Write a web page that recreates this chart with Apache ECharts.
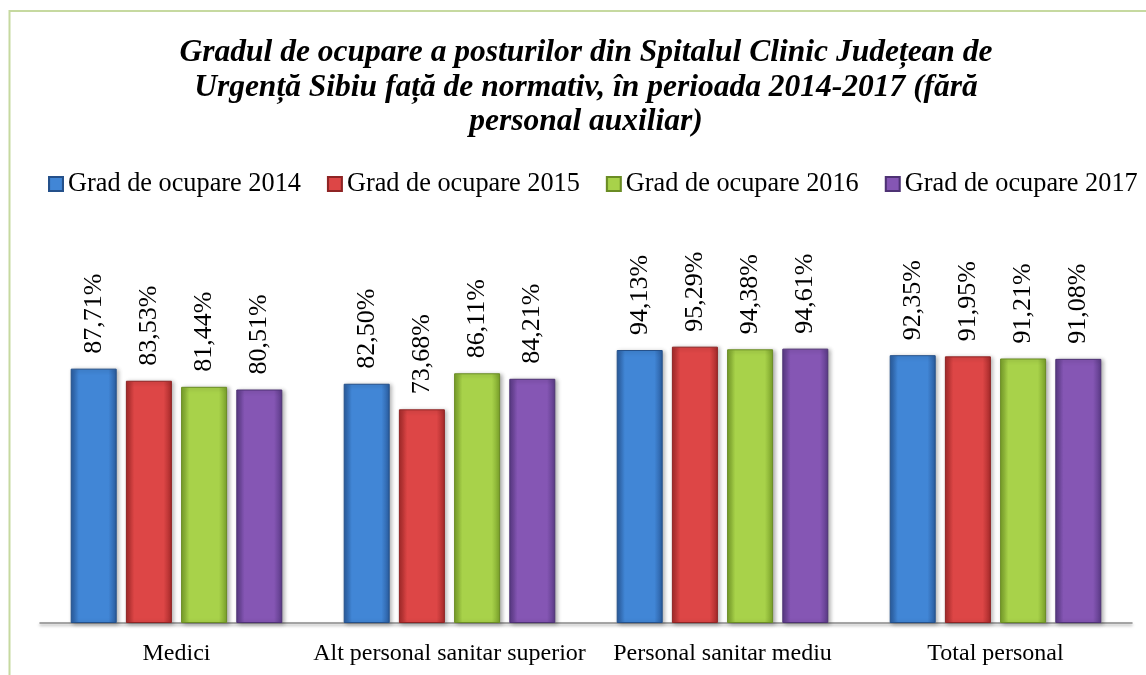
<!DOCTYPE html>
<html>
<head>
<meta charset="utf-8">
<script src="https://cdn.jsdelivr.net/npm/echarts@6/dist/echarts.min.js"></script>
<style>
html,body{margin:0;padding:0;background:#fff;}
#chart{width:1146px;height:675px;}
</style>
</head>
<body>
<div id="chart"></div>
<script>
const categories = ['Medici', 'Alt personal sanitar superior', 'Personal sanitar mediu', 'Total personal'];
const seriesNames = ['Grad de ocupare 2014', 'Grad de ocupare 2015', 'Grad de ocupare 2016', 'Grad de ocupare 2017'];
const values2014 = [87.71, 82.50, 94.13, 92.35];
const values2015 = [83.53, 73.68, 95.29, 91.95];
const values2016 = [81.44, 86.11, 94.38, 91.21];
const values2017 = [80.51, 84.21, 94.61, 91.08];
const titleText = 'Gradul de ocupare a posturilor din Spitalul Clinic Județean de\nUrgență Sibiu față de normativ, în perioada 2014-2017 (fără\npersonal auxiliar)';

const FONT = '"Liberation Serif", "Times New Roman", serif';
const palettes = [
  { edge: '#2a5c9e', mid: '#4186d6', border: '#24508a' },
  { edge: '#a52a2a', mid: '#dd4646', border: '#8e2424' },
  { edge: '#79a02a', mid: '#a8d24a', border: '#6a8c24' },
  { edge: '#5a3a86', mid: '#8556b4', border: '#4e3274' }
];
const allValues = [values2014, values2015, values2016, values2017];

function grad(p) {
  return new echarts.graphic.LinearGradient(0, 0, 1, 0, [
    { offset: 0, color: p.edge },
    { offset: 0.18, color: p.mid },
    { offset: 0.82, color: p.mid },
    { offset: 1, color: p.edge }
  ]);
}

const chart = echarts.init(document.getElementById('chart'));
chart.setOption({
  animation: false,
  backgroundColor: '#fff',
  graphic: [{
    type: 'rect',
    shape: { x: 9.5, y: 11, width: 1300, height: 1000 },
    style: { fill: 'none', stroke: '#c6d9a0', lineWidth: 2 },
    silent: true
  }],
  title: {
    text: titleText,
    left: 586,
    top: 36,
    textAlign: 'center',
    padding: 0,
    textStyle: {
      fontFamily: FONT,
      fontSize: 31.5,
      fontWeight: 'bold',
      fontStyle: 'italic',
      color: '#000',
      lineHeight: 34.5
    }
  },
  legend: {
    data: seriesNames,
    left: 48,
    top: 171,
    padding: 0,
    itemGap: 26,
    itemWidth: 14,
    itemHeight: 14,
    icon: 'rect',
    textStyle: { fontFamily: FONT, fontSize: 26.3, color: '#000', lineHeight: 26 }
  },
  grid: { left: 40, right: 14, top: 333, bottom: 52, containLabel: false },
  xAxis: {
    type: 'category',
    data: categories,
    axisTick: { show: false },
    axisLine: { lineStyle: { color: '#8a8a8a', width: 1.5, shadowColor: 'rgba(0,0,0,0.35)', shadowBlur: 3, shadowOffsetY: 2 } },
    axisLabel: { interval: 0, fontFamily: FONT, fontSize: 24, color: '#000', margin: 19 }
  },
  yAxis: {
    type: 'value',
    min: 0,
    max: 100,
    show: false,
    splitLine: { show: false }
  },
  series: seriesNames.map((name, i) => ({
    name: name,
    type: 'bar',
    data: allValues[i],
    barWidth: 46,
    barGap: '20%',
    itemStyle: {
      color: grad(palettes[i]),
      borderColor: palettes[i].border,
      borderWidth: 1,
      shadowColor: 'rgba(0,0,0,0.3)',
      shadowBlur: 4,
      shadowOffsetX: 2,
      shadowOffsetY: 1
    },
    label: {
      show: true,
      position: 'top',
      rotate: 90,
      align: 'left',
      verticalAlign: 'middle',
      distance: 15,
      fontFamily: FONT,
      fontSize: 26,
      color: '#000',
      formatter: p => p.value.toFixed(2).replace('.', ',') + '%'
    }
  }))
});
</script>
</body>
</html>
